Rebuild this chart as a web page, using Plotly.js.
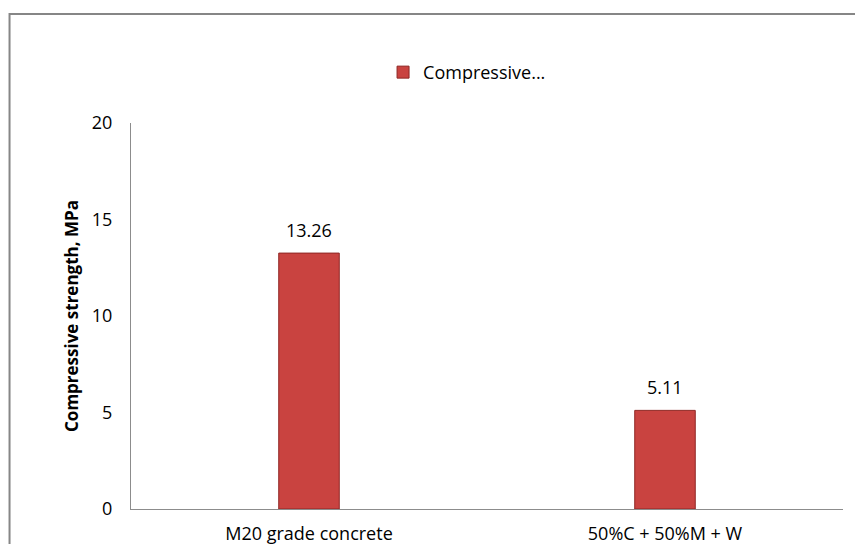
<!DOCTYPE html>
<html>
<head>
<meta charset="utf-8">
<script src="https://cdn.plot.ly/plotly-3.0.1.min.js"></script>
<style>html,body{margin:0;padding:0;background:#fff;}#chart{width:855px;height:544px;}</style>
</head>
<body>
<div id="chart"></div>
<script>
const categories = ["M20 grade concrete", "50%C + 50%M + W"];
const strengthValues = [13.26, 5.11];
const valueLabels = ["13.26", "5.11"];
const seriesName = "Compressive...";
const yTicks = [0, 5, 10, 15, 20];

const font = "Open Sans, Noto Sans, sans-serif";

const trace = {
  type: "bar",
  x: categories,
  y: strengthValues,
  name: seriesName,
  width: 0.17,
  marker: {color: "#c94340", line: {color: "#8f2724", width: 1}},
  showlegend: true,
  hoverinfo: "x+y"
};

const annotations = categories.map((c, i) => ({
  x: c, y: strengthValues[i], text: valueLabels[i],
  showarrow: false, yanchor: "bottom", yshift: 9,
  font: {family: font, size: 18, color: "#000"}
}));

const layout = {
  width: 855, height: 544,
  margin: {l: 130.5, r: 12, t: 122.7, b: 34.7},
  paper_bgcolor: "#fff", plot_bgcolor: "#fff",
  font: {family: font, size: 18, color: "#000"},
  showlegend: true,
  legend: {x: 0.354, xanchor: "left", y: 1.131, yanchor: "middle",
           orientation: "h", font: {family: font, size: 18, color: "#000"},
           itemwidth: 30,
           bgcolor: "rgba(0,0,0,0)"},
  xaxis: {
    type: "category", showgrid: false, zeroline: false,
    showline: true, linecolor: "#8c8c8c", linewidth: 1,
    ticks: "", ticklabelstandoff: 8,
    tickfont: {family: font, size: 18, color: "#000"}
  },
  yaxis: {
    range: [0, 20], tickvals: yTicks, showgrid: false, zeroline: false,
    showline: true, linecolor: "#8c8c8c", linewidth: 1,
    ticks: "", ticklabelstandoff: 14,
    tickfont: {family: font, size: 18, color: "#000"},
    title: {text: "<b>Compressive strength, MPa</b>", standoff: 8,
            font: {family: font, size: 17, color: "#000"}}
  },
  annotations: annotations,
  shapes: [{
    type: "rect", xref: "paper", yref: "paper",
    x0: -0.1706, x1: 1.2, y0: -0.3, y1: 1.2826,
    line: {color: "#868686", width: 2}, fillcolor: "rgba(0,0,0,0)", layer: "above"
  }]
};

Plotly.newPlot("chart", [trace], layout, {displayModeBar: false, responsive: false});
</script>
</body>
</html>
